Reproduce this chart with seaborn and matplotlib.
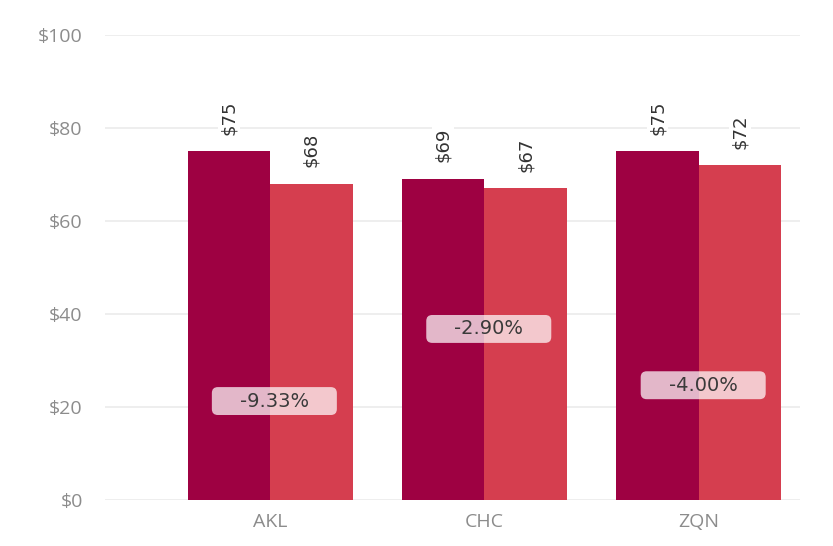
import matplotlib
matplotlib.use("Agg")
import matplotlib.pyplot as plt
from matplotlib.patches import FancyBboxPatch
import seaborn as sns
import pandas as pd

categories = ["AKL", "CHC", "ZQN"]
series_names = ["Before", "After"]
before_values = [75, 69, 75]
after_values = [68, 67, 72]
change_labels = ["-9.33%", "-2.90%", "-4.00%"]
badge_levels = [21.3, 36.8, 24.7]
y_ticks = [0, 20, 40, 60, 80, 100]
y_tick_labels = ["$0", "$20", "$40", "$60", "$80", "$100"]

df = pd.DataFrame({
    "cat": categories * 2,
    "series": [series_names[0]] * 3 + [series_names[1]] * 3,
    "value": before_values + after_values,
})

sns.set_theme(style="white")
plt.rcParams["font.family"] = ["Open Sans", "DejaVu Sans"]

fig = plt.figure(figsize=(8.33, 5.46), dpi=100)
ax = fig.add_axes([0.126, 0.084, 0.834, 0.852])

sns.barplot(data=df, x="cat", y="value", hue="series", order=categories,
            hue_order=series_names, palette=["#9e0142", "#d53e4f"],
            width=0.77, gap=0, ax=ax, legend=False, errorbar=None,
            saturation=1, edgecolor="none", linewidth=0)

ax.set_ylim(0, 100)
ax.set_xlim(-0.77, 2.47)
ax.set_yticks(y_ticks)
ax.set_yticklabels(y_tick_labels, color="#8c8c8c", fontsize=14)
ax.tick_params(axis="x", colors="#8c8c8c", labelsize=14, length=0, pad=9)
ax.tick_params(axis="y", length=0, pad=16)
ax.grid(axis="y", color="#ebebeb", linewidth=1.2, zorder=0)
ax.set_axisbelow(True)
for s in ax.spines.values():
    s.set_visible(False)
ax.set_xlabel("")
ax.set_ylabel("")

for container in ax.containers:
    for bar in container:
        h = bar.get_height()
        x = bar.get_x() + bar.get_width() / 2
        ax.annotate(f"${h:.0f}", (x, h), xytext=(0, 12), textcoords="offset points",
                    rotation=90, ha="center", va="bottom", fontsize=13,
                    color="#333333", family=["DejaVu Sans"],
                    bbox=dict(boxstyle="square,pad=0.1", fc="white", ec="none"),
                    annotation_clip=False)

for i, (lab, lvl) in enumerate(zip(change_labels, badge_levels)):
    cx = i + 0.02
    w, hgt = 0.583, 6.0
    patch = FancyBboxPatch((cx - w / 2, lvl - hgt / 2), w, hgt,
                           boxstyle="round,pad=0,rounding_size=0.028",
                           mutation_aspect=46,
                           fc="white", ec="none", alpha=0.72, zorder=5)
    ax.add_patch(patch)
    ax.text(cx, lvl, lab, ha="center", va="center", fontsize=14,
            color="#3a3a3a", family=["DejaVu Sans"], zorder=6)

fig.savefig("out.png", dpi=100, facecolor="white")
